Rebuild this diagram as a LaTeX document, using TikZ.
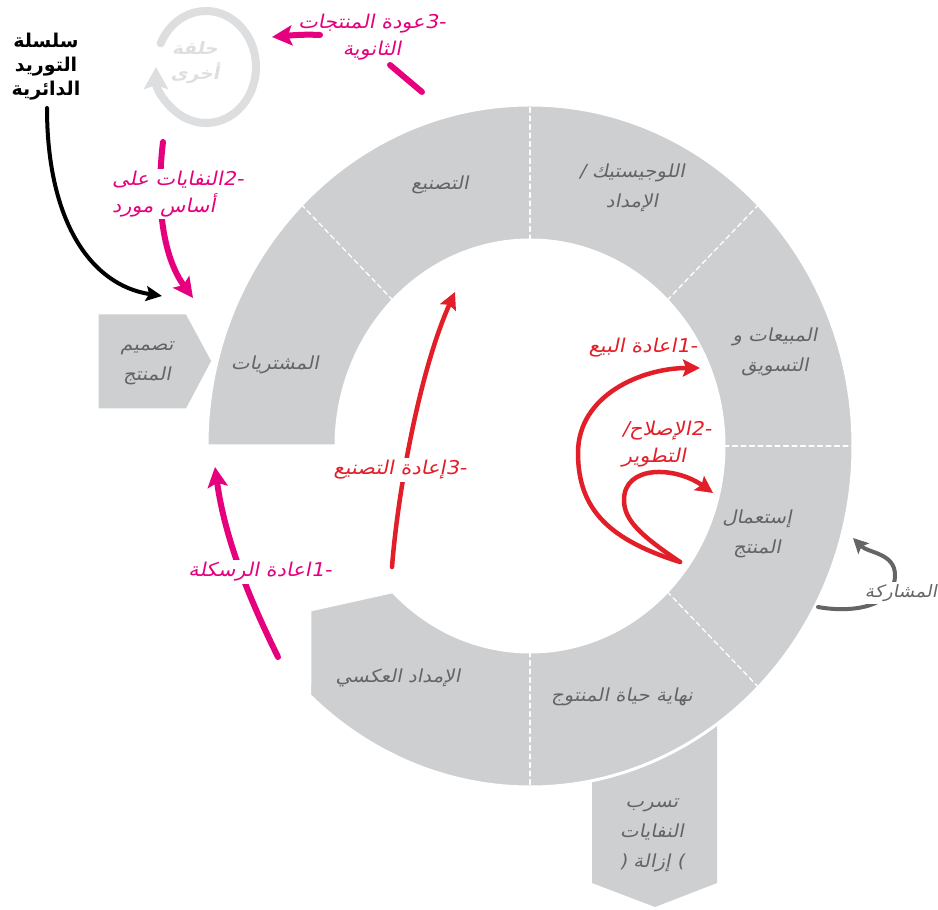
\documentclass[tikz,border=0pt]{standalone}
\usepackage{fontspec}
\usetikzlibrary{arrows.meta,calc}
\newfontfamily\arfont[Script=Arabic]{DejaVu Sans}
\newfontfamily\arslant[Script=Arabic,FakeSlant=0.2,FakeStretch=1.1]{DejaVu Sans}
\TeXXeTstate=1
\newcommand{\rl}[1]{\beginR#1\endR}
\definecolor{ringgray}{RGB}{205,207,209}
\definecolor{ringtext}{RGB}{99,100,102}
\definecolor{pinkc}{RGB}{230,0,126}
\definecolor{redc}{RGB}{226,30,40}
\definecolor{sharegray}{RGB}{100,101,103}
\definecolor{loopgray}{RGB}{221,222,223}
\begin{document}
\begin{tikzpicture}[x=1pt, y=1pt, line cap=round, line join=round,
  ringfill/.style={fill=ringgray, draw=white, line width=3pt},
  divider/.style={white, line width=1.3pt, dash pattern=on 5pt off 3.5pt},
  ringlbl/.style={text=ringtext, font=\arslant\fontsize{18}{30}\selectfont, align=center, inner sep=2pt},
  pinklbl/.style={text=pinkc, font=\arslant\fontsize{19}{27}\selectfont, align=center, inner sep=2pt},
  redlbl/.style={text=redc, font=\arslant\fontsize{19}{27}\selectfont, align=center, inner sep=2pt},
  chainlbl/.style={font=\arfont\bfseries\fontsize{19}{24}\selectfont, align=center},
  looplbl/.style={text=loopgray, font=\arslant\bfseries\fontsize{17}{25}\selectfont, align=center},
  sharelbl/.style={text=sharegray, font=\arslant\fontsize{17}{20}\selectfont, inner sep=2pt},
  pinkline/.style={draw=pinkc, line width=6pt},
  pinkarrow/.style={pinkline, -{Stealth[length=20pt,width=20pt,inset=4pt]}},
  redarrow/.style={draw=redc, line width=4.5pt, -{Stealth[length=17pt,width=17pt,inset=3pt]}},
  chainarrow/.style={draw=black, line width=4pt, -{Stealth[length=16pt,width=15pt,inset=3pt]}},
  sharearrow/.style={draw=sharegray, line width=4pt, -{Stealth[length=15pt,width=15pt,inset=3pt]}},
  looparrow/.style={draw=loopgray, line width=8pt, -{Stealth[length=22pt,width=24pt,inset=4pt]}}]
\def\ox{323}\def\oy{341}\def\ix{194}\def\iy{206}
\useasboundingbox (0,0) rectangle (938,910);
\fill[white] (0,0) rectangle (938,910);
\path (530,464)coordinate(C) (206,843)coordinate(loopC)
  (47,802)coordinate(chainS) (162,614)coordinate(chainE)
  (163,768)coordinate(wasteS) (193,612)coordinate(wasteE)
  (422,818)coordinate(byprodS) (390,845)coordinate(byprodM) (320,875)coordinate(byprodN) (272,873)coordinate(byprodE)
  (278,253)coordinate(recycS) (215,443)coordinate(recycE)
  (392,343)coordinate(remanS) (455,618)coordinate(remanE)
  (680,348)coordinate(useS) (700,542)coordinate(resellE) (713,417)coordinate(repairE)
  (818,303)coordinate(shareS) (853,372)coordinate(shareE);
\fill[ringgray] (592,190)--(717,190)--(717,27)--(655,3)--(592,27)--cycle;
\filldraw[ringfill] ($(C)+(180:\ox pt and \oy pt)$) arc[start angle=180, end angle=-133, x radius=\ox, y radius=\oy]
  --(310,300)--($(C)+(-135:\ix pt and \iy pt)$) arc[start angle=-135, end angle=180, x radius=\ix, y radius=\iy]--cycle;
\filldraw[ringfill] (97,597)--(187,597)--(213,549)--(187,500)--(97,500)--cycle;
\foreach \a in {135,90,45,0,-45,-90}
  \draw[divider] ($(C)+(\a:\ix pt and \iy pt)$)--($(C)+(\a:\ox pt and \oy pt)$);
\node[ringlbl] (purch) at (275,545) {\rl{المشتريات}};
\node[ringlbl] (manuf) at (440,725) {\rl{التصنيع}};
\node[ringlbl] (logis) at (632,722) {\rl{اللوجيستيك /}\\\rl{الإمداد}};
\node[ringlbl] (sales) at (775,558) {\rl{المبيعات و}\\\rl{التسويق}};
\node[ringlbl] (use) at (757,376) {\rl{إستعمال}\\\rl{المنتج}};
\node[ringlbl] (eol) at (622,213) {\rl{نهاية حياة المنتوج}};
\node[ringlbl] (rev) at (398,232) {\rl{الإمداد العكسي}};
\node[ringlbl] (design) at (147,547) {\rl{تصميم}\\\rl{المنتج}};
\node[ringlbl] (leak) at (652,75) {\rl{تسرب}\\\rl{النفايات}\\\rl{\hbox{)} إزالة \hbox{(}}};
\node[chainlbl] (chain) at (46,843) {\rl{سلسلة}\\\rl{التوريد}\\\rl{الدائرية}};
\draw[looparrow] ($(loopC)+(155:50pt and 56pt)$) arc[start angle=155, end angle=-180, x radius=50, y radius=56];
\node[looplbl] (loop) at (195,847) {\rl{حلقة}\\\rl{أخرى}};
\draw[chainarrow] (chainS) .. controls (47,690) and (90,625) .. (chainE);
\draw[pinkarrow] (wasteS) .. controls (155,700) and (165,650) .. (wasteE);
\draw[pinkline] (byprodS)--(byprodM);
\draw[pinkarrow] (byprodN) .. controls (300,876) and (285,874) .. (byprodE);
\draw[pinkarrow] (recycS) .. controls (250,310) and (225,370) .. (recycE);
\draw[redarrow] (remanS) .. controls (398,420) and (420,540) .. (remanE);
\draw[redarrow] (useS) .. controls (610,370) and (578,400) .. (578,457) .. controls (578,515) and (642,542) .. (resellE);
\draw[redarrow] (useS) .. controls (640,375) and (624,390) .. (624,410) .. controls (624,445) and (675,444) .. (repairE);
\draw[sharearrow] (shareS) .. controls (850,297) and (895,302) .. (895,335) .. controls (895,357) and (868,357) .. (shareE);
\node[pinklbl] (byprod) at (372,873) {\rl{\hbox{-3}عودة المنتجات}\\\rl{الثانوية}};
\node[pinklbl, fill=white, anchor=west, align=left] (waste) at (110,716) {\rl{\hbox{-2}النفايات على}\\\rl{أساس مورد}};
\node[pinklbl, fill=white] (recyc) at (260,338) {\rl{\hbox{-1}اعادة الرسكلة}};
\node[redlbl, fill=white] (reman) at (400,440) {\rl{\hbox{-3}إعادة التصنيع}};
\node[redlbl] (resell) at (643,562) {\rl{\hbox{-1}اعادة البيع}};
\node[redlbl, anchor=west, align=left] (repair) at (620,466) {\rl{\hbox{-2}الإصلاح\hbox{/}}\\\rl{التطوير}};
\node[sharelbl, fill=white] (share) at (901,317) {\rl{المشاركة}};
\end{tikzpicture}
\end{document}
